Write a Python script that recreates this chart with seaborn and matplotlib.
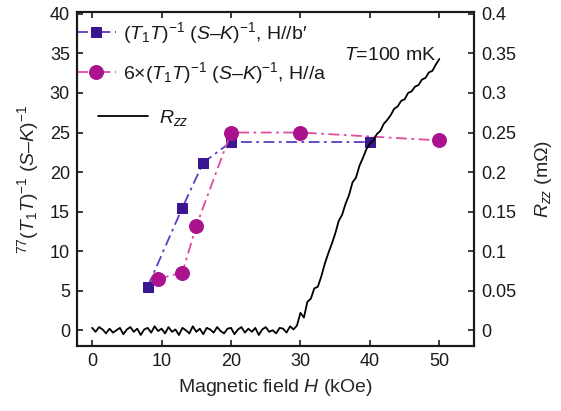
import numpy as np
import matplotlib
matplotlib.use("Agg")
import matplotlib.pyplot as plt
import seaborn as sns

# NMR data, H//b'
field_b = [8, 13, 16, 20, 40]
nmr_b = [5.5, 15.5, 21.2, 23.8, 23.8]

# NMR data (x6), H//a
field_a = [9.5, 13, 15, 20, 30, 50]
nmr_a = [6.5, 7.3, 13.2, 25.0, 25.0, 24.0]

# Rzz sweep at T = 100 mK, 0 to 50 kOe in 0.5 kOe steps
field_r = np.arange(0, 50.01, 0.5)
rzz = [
    0.003, -0.002, 0.004, 0.001, -0.004, 0.002, -0.003, 0.000, 0.003, -0.005,
    0.001, 0.004, -0.002, 0.002, -0.006, 0.001, 0.003, -0.003, 0.005, -0.001,
    0.002, -0.004, 0.004, -0.002, 0.001, -0.006, 0.003, 0.000, -0.004, 0.005,
    -0.002, 0.002, -0.005, 0.003, 0.001, -0.003, 0.004, -0.001, -0.004, 0.002,
    0.003, -0.005, 0.001, 0.004, -0.003, 0.002, -0.002, 0.003, -0.006, 0.001,
    0.004, -0.002, 0.000, -0.004, 0.003, 0.002, -0.003, 0.005, 0.001,
    0.006, 0.022, 0.016, 0.036, 0.040, 0.053, 0.055, 0.068, 0.084, 0.097,
    0.109, 0.122, 0.138, 0.146, 0.160, 0.171, 0.187, 0.193, 0.208, 0.218,
    0.229, 0.236, 0.240, 0.248, 0.252, 0.261, 0.266, 0.272, 0.280, 0.283,
    0.290, 0.292, 0.300, 0.302, 0.308, 0.310, 0.317, 0.319, 0.326, 0.328,
    0.336, 0.343,
]

sns.set_style("ticks")
plt.rcParams["font.family"] = ["Liberation Sans", "DejaVu Sans"]
plt.rcParams["mathtext.fontset"] = "custom"
plt.rcParams["mathtext.rm"] = "Liberation Sans"
plt.rcParams["mathtext.it"] = "Liberation Sans:italic"
plt.rcParams["mathtext.bf"] = "Liberation Sans:bold"
plt.rcParams["text.color"] = "#1a1a1a"

fig = plt.figure(figsize=(5.61, 4.11), dpi=100)
ax = fig.add_axes([0.137, 0.158, 0.708, 0.813])
ax2 = ax.twinx()

dashdot = (0, (6, 2.5, 1.5, 2.5))

sns.lineplot(
    x=field_b, y=nmr_b, ax=ax, estimator=None,
    color="#5a3cc4", linestyle=dashdot, linewidth=1.3,
    marker="s", markersize=7.5,
    markerfacecolor="#3a1690", markeredgecolor="#3a1690",
    label=r"$(T_1T)^{-1}$ $(S$–$K)^{-1}$, H//b′",
)
sns.lineplot(
    x=field_a, y=nmr_a, ax=ax, estimator=None,
    color="#e04aa0", linestyle=dashdot, linewidth=1.3,
    marker="o", markersize=10,
    markerfacecolor="#aa128e", markeredgecolor="#aa128e",
    label=r"6×$(T_1T)^{-1}$ $(S$–$K)^{-1}$, H//a",
)
sns.lineplot(
    x=field_r, y=rzz, ax=ax2, estimator=None,
    color="black", linewidth=1.3, label=r"$R_{zz}$",
)

ax.set_xlim(-2.2, 55)
ax.set_ylim(-2.0, 40.25)
ax2.set_ylim(-0.020, 0.4025)

ax.set_xticks([0, 10, 20, 30, 40, 50])
ax.set_yticks(np.arange(0, 41, 5))
ax2.set_yticks(np.arange(0, 0.41, 0.05))
ax2.set_yticklabels(["0", "0.05", "0.1", "0.15", "0.2", "0.25", "0.3", "0.35", "0.4"])

ax.tick_params(direction="in", top=True, right=False, length=4, width=1.2,
               labelsize=13, colors="#1a1a1a", pad=5)
ax2.tick_params(direction="in", length=4, width=1.2, labelsize=13,
                colors="#1a1a1a", pad=5)
for a in (ax, ax2):
    for s in a.spines.values():
        s.set_linewidth(1.5)
        s.set_color("#1a1a1a")
        s.set_visible(True)

ax.set_xlabel(r"Magnetic field $H$ (kOe)", fontsize=14, labelpad=5)
ax.set_ylabel(r"$^{77}(T_1T)^{-1}$ $(S$–$K)^{-1}$", fontsize=14, labelpad=6)
ax2.set_ylabel(r"$R_{zz}$ (m$\Omega$)", fontsize=14, labelpad=12)

ax.text(49.6, 34.8, r"$T$=100 mK", ha="right", va="center", fontsize=14)

leg1 = ax.legend(
    loc="upper left", bbox_to_anchor=(0.0, 0.975), frameon=False,
    handlelength=2.0, handletextpad=0.35, labelspacing=0.72,
    borderpad=0, borderaxespad=0, fontsize=14,
)
leg2 = ax2.legend(
    loc="upper left", bbox_to_anchor=(0.053, 0.712), frameon=False,
    handlelength=2.6, handletextpad=0.55,
    borderpad=0, borderaxespad=0, fontsize=14,
)

fig.savefig("out.png", dpi=100)
